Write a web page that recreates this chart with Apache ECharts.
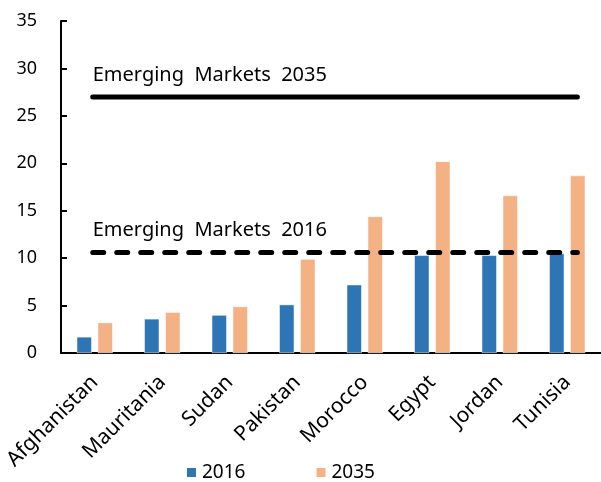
<!DOCTYPE html>
<html>
<head>
<meta charset="utf-8">
<script src="https://cdn.jsdelivr.net/npm/echarts@6/dist/echarts.min.js"></script>
<style>
  html, body { margin: 0; padding: 0; background: #fff; }
  #chart { width: 601px; height: 482px; }
</style>
</head>
<body>
<div id="chart"></div>
<script>
const countries = ['Afghanistan', 'Mauritania', 'Sudan', 'Pakistan', 'Morocco', 'Egypt', 'Jordan', 'Tunisia'];
const values2016 = [1.7, 3.6, 4.0, 5.1, 7.2, 10.3, 10.3, 10.5];
const values2035 = [3.2, 4.3, 4.9, 9.9, 14.4, 20.2, 16.6, 18.7];
const emerging2016 = 10.6;
const emerging2035 = 27;
// horizontal extent of the reference lines, in category units
const refLineSpan = [0.47, 7.65];
const yTicks = { min: 0, max: 35, interval: 5 };

const font = 'Noto Sans';
const blue = '#2e75b6';
const orange = '#f4b183';

function refLine(name, value, dashed) {
    return {
        name: name,
        type: 'line',
        xAxisIndex: 1,
        symbol: 'circle',
        symbolSize: 0,
        showSymbol: true,
        silent: true,
        lineStyle: {
            color: '#000',
            width: 5,
            type: dashed ? [11, 13] : 'solid',
            cap: 'round'
        },
        label: { show: false },
        data: [
            {
                value: [refLineSpan[0], value],
                label: {
                    show: true,
                    position: 'top',
                    align: 'left',
                    distance: 12,
                    formatter: name.replace(/ /g, '  '),
                    fontFamily: font,
                    fontSize: 20,
                    color: '#000'
                }
            },
            [refLineSpan[1], value]
        ]
    };
}

let myChart = echarts.init(document.getElementById('chart'));
myChart.setOption({
    animation: false,
    backgroundColor: '#fff',
    grid: {
        left: 61,
        right: 0,
        top: 21,
        bottom: 129
    },
    legend: {
        bottom: -5,
        left: 180,
        itemWidth: 11,
        itemHeight: 11,
        itemGap: 69,
        data: [
            { name: '2016', icon: 'rect' },
            { name: '2035', icon: 'rect' }
        ],
        textStyle: { fontFamily: font, fontSize: 19, color: '#000' }
    },
    xAxis: [{
        type: 'category',
        data: countries,
        axisLine: { lineStyle: { color: '#000', width: 2 } },
        axisTick: { inside: true, length: 6, lineStyle: { color: '#000', width: 2 } },
        axisLabel: {
            rotate: 45,
            margin: 26,
            padding: [0, 0, 0, 0],
            fontFamily: font,
            fontSize: 21,
            color: '#000'
        }
    }, {
        type: 'value',
        min: 0,
        max: countries.length,
        show: false
    }],
    yAxis: {
        type: 'value',
        min: yTicks.min,
        max: yTicks.max,
        interval: yTicks.interval,
        splitLine: { show: false },
        axisLine: { show: true, lineStyle: { color: '#000', width: 2 } },
        axisTick: { show: true, inside: true, length: 6, lineStyle: { color: '#000', width: 2 } },
        axisLabel: {
            margin: 24,
            fontFamily: font,
            fontSize: 18,
            color: '#000'
        }
    },
    series: [{
        name: '2016',
        type: 'bar',
        color: blue,
        barWidth: 15,
        barGap: '40%',
        itemStyle: { borderColor: '#fff', borderWidth: 0.5 },
        data: values2016
    }, {
        name: '2035',
        type: 'bar',
        color: orange,
        barWidth: 15,
        itemStyle: { borderColor: '#fff', borderWidth: 0.5 },
        data: values2035
    },
    refLine('Emerging Markets 2035', emerging2035, false),
    refLine('Emerging Markets 2016', emerging2016, true)
    ]
});
</script>
</body>
</html>
